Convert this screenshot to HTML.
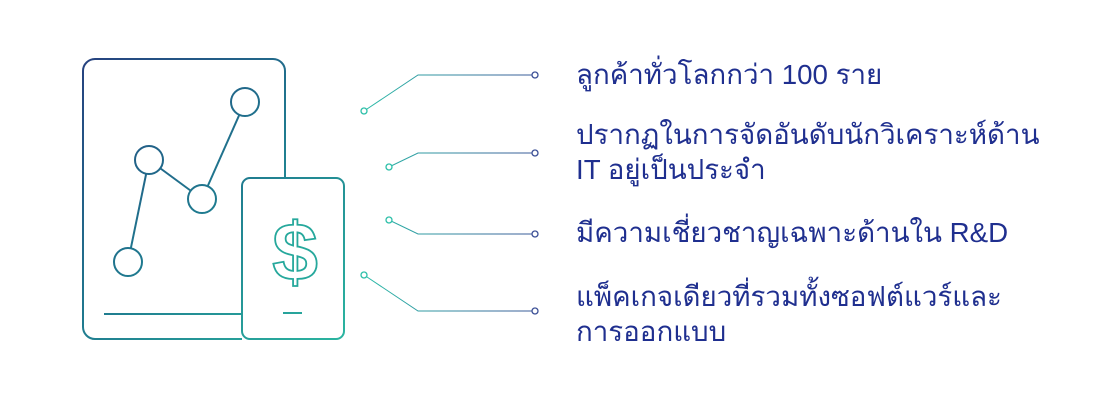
<!DOCTYPE html>
<html><head><meta charset="utf-8"><style>
html,body{margin:0;padding:0;background:#fff;width:1110px;height:400px;overflow:hidden}
svg{position:absolute;left:0;top:0}
.t{position:absolute;left:576px;font-family:"Liberation Sans","DejaVu Sans","Noto Sans CJK SC",sans-serif;font-size:27.7px;color:#1f2f8f;line-height:35px;white-space:nowrap}
</style></head><body>
<svg width="1110" height="400" viewBox="0 0 1110 400">
<defs>
<linearGradient id="g" x1="80" y1="60" x2="345" y2="340" gradientUnits="userSpaceOnUse">
<stop offset="0" stop-color="#26417f"/><stop offset="0.5" stop-color="#1f7a8f"/><stop offset="1" stop-color="#2bb5a0"/>
</linearGradient>
<linearGradient id="c" x1="360" y1="0" x2="540" y2="0" gradientUnits="userSpaceOnUse">
<stop offset="0" stop-color="#2bbfa8"/><stop offset="1" stop-color="#3b5598"/>
</linearGradient>
</defs>
<g fill="none" stroke="url(#g)" stroke-width="2">
<path d="M242 339 H95 a12 12 0 0 1 -12 -12 V71 a12 12 0 0 1 12 -12 H273 a12 12 0 0 1 12 12 V178"/>
<line x1="104" y1="314" x2="242" y2="314"/>
<rect x="242" y="178" width="102" height="161" rx="8"/>
<line x1="283" y1="313" x2="302" y2="313"/>
<line x1="128" y1="262" x2="149" y2="160"/>
<line x1="149" y1="160" x2="202" y2="199"/>
<line x1="202" y1="199" x2="245" y2="102"/>
<circle cx="128" cy="262" r="14" fill="#fff"/>
<circle cx="149" cy="160" r="14" fill="#fff"/>
<circle cx="202" cy="199" r="14" fill="#fff"/>
<circle cx="245" cy="102" r="14" fill="#fff"/>
</g>
<text x="295" y="280" text-anchor="middle" font-family="Liberation Sans,sans-serif" font-weight="bold" font-size="82" fill="none" stroke="#26a89c" stroke-width="1.8">$</text>
<g fill="none" stroke="url(#c)" stroke-width="1">
<polyline points="364,111 418,75 535,75"/>
<polyline points="389,167 418,153 535,153"/>
<polyline points="389,220 418,234 535,234"/>
<polyline points="364,275 418,311 535,311"/>
</g>
<g fill="#fff" stroke-width="1.3">
<circle cx="364" cy="111" r="3" stroke="#2bbfa8"/><circle cx="389" cy="167" r="3" stroke="#2bbfa8"/>
<circle cx="389" cy="220" r="3" stroke="#2bbfa8"/><circle cx="364" cy="275" r="3" stroke="#2bbfa8"/>
<circle cx="535" cy="75" r="3" stroke="#3b4f96"/><circle cx="535" cy="153" r="3" stroke="#3b4f96"/>
<circle cx="535" cy="234" r="3" stroke="#3b4f96"/><circle cx="535" cy="311" r="3" stroke="#3b4f96"/>
</g>
</svg>
<div class="t" style="top:57px">ลูกค้าทั่วโลกกว่า 100 ราย</div>
<div class="t" style="top:117px">ปรากฏในการจัดอันดับนักวิเคราะห์ด้าน<br>IT อยู่เป็นประจำ</div>
<div class="t" style="top:215px">มีความเชี่ยวชาญเฉพาะด้านใน R&amp;D</div>
<div class="t" style="top:279px">แพ็คเกจเดียวที่รวมทั้งซอฟต์แวร์และ<br>การออกแบบ</div>
</body></html>
